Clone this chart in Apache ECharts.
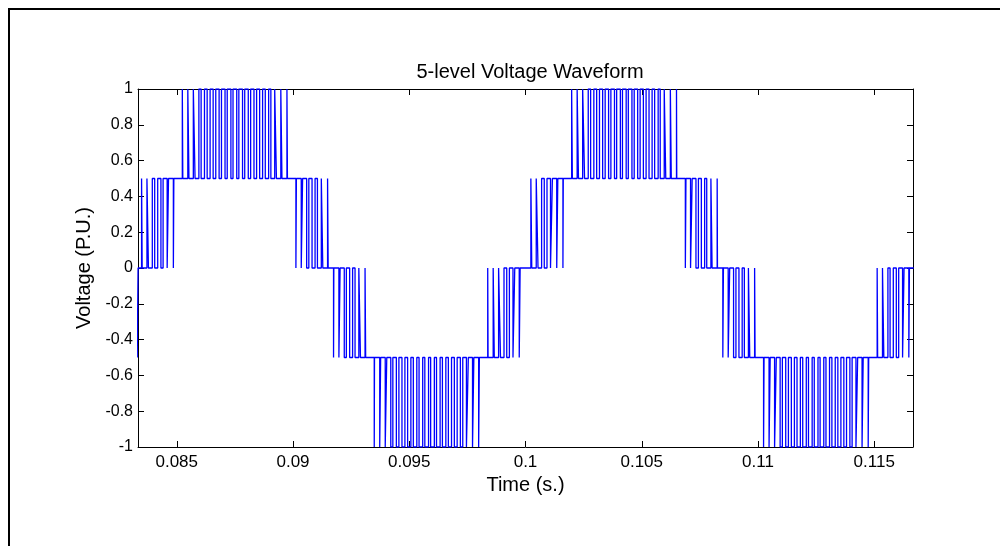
<!DOCTYPE html>
<html>
<head>
<meta charset="utf-8">
<script src="https://cdn.jsdelivr.net/npm/echarts@6/dist/echarts.min.js"></script>
<style>
html,body{margin:0;padding:0;background:#fff;}
#chart{width:1000px;height:546px;}
</style>
</head>
<body>
<div id="chart"></div>
<script>
// Switching events: [time in ms, level after the switch]
var lead = [[83.300,-0.5],[83.336,0]];
var c1PosRise = [[83.4871,0.5],[83.5129,0],[83.7179,0.5],[83.7821,0],[83.949,0.5],[84.051,0],[84.1806,0.5],[84.3194,0],[84.4127,0.5],[84.5873,0],[84.6457,0.5],[84.8543,0],[84.875,0.5]];
var c1PosTop = [[85.2394,1],[85.2606,0.5],[85.4755,1],[85.5245,0.5],[85.713,1],[85.787,0.5],[85.9519,1],[86.0481,0.5],[86.1923,1],[86.3077,0.5],[86.4344,1],[86.5656,0.5],[86.6782,1],[86.8218,0.5],[86.9236,1],[87.0764,0.5],[87.1709,1],[87.3291,0.5],[87.42,1],[87.58,0.5],[87.6709,1],[87.8291,0.5],[87.9236,1],[88.0764,0.5],[88.1782,1],[88.3218,0.5],[88.4344,1],[88.5656,0.5],[88.6923,1],[88.8077,0.5],[88.9519,1],[89.0481,0.5],[89.213,1],[89.287,0.5],[89.4755,1],[89.5245,0.5],[89.7394,1],[89.7606,0.5]];
var c1PosFall = [[90.125,0],[90.1457,0.5],[90.3543,0],[90.4127,0.5],[90.5873,0],[90.6806,0.5],[90.8194,0],[90.949,0.5],[91.051,0],[91.2179,0.5],[91.2821,0],[91.4871,0.5],[91.5129,0]];
var c1NegFall = [[91.7436,-0.5],[91.7564,0],[91.9743,-0.5],[92.0257,0],[92.2053,-0.5],[92.2947,0],[92.4367,-0.5],[92.5633,0],[92.6686,-0.5],[92.8314,0],[92.9012,-0.5],[93.0988,0],[93.125,-0.5]];
var c1NegBottom = [[93.4943,-1],[93.5057,-0.5],[93.73,-1],[93.77,-0.5],[93.967,-1],[94.033,-0.5],[94.2055,-1],[94.2945,-0.5],[94.4454,-1],[94.5546,-0.5],[94.6869,-1],[94.8131,-0.5],[94.93,-1],[95.07,-0.5],[95.175,-1],[95.325,-0.5],[95.4217,-1],[95.5783,-0.5],[95.6701,-1],[95.8299,-0.5],[95.9204,-1],[96.0796,-0.5],[96.1725,-1],[96.3275,-0.5],[96.4264,-1],[96.5736,-0.5],[96.6821,-1],[96.8179,-0.5],[96.9395,-1],[97.0605,-0.5],[97.1985,-1],[97.3015,-0.5],[97.4591,-1],[97.5409,-0.5],[97.7212,-1],[97.7788,-0.5],[97.9846,-1],[98.0154,-0.5]];
var c1NegRise = [[98.375,0],[98.3901,-0.5],[98.6099,0],[98.6569,-0.5],[98.8431,0],[98.9245,-0.5],[99.0755,0],[99.1928,-0.5],[99.3072,0],[99.4616,-0.5],[99.5384,0],[99.7307,-0.5],[99.7693,0]];
var c2PosRise = [[100.2307,0.5],[100.2693,0],[100.4616,0.5],[100.5384,0],[100.6928,0.5],[100.8072,0],[100.9245,0.5],[101.0755,0],[101.1569,0.5],[101.3431,0],[101.3901,0.5],[101.6099,0],[101.625,0.5]];
var c2PosTop = [[101.9846,1],[102.0154,0.5],[102.2212,1],[102.2788,0.5],[102.4591,1],[102.5409,0.5],[102.6985,1],[102.8015,0.5],[102.9395,1],[103.0605,0.5],[103.1821,1],[103.3179,0.5],[103.4264,1],[103.5736,0.5],[103.6725,1],[103.8275,0.5],[103.9204,1],[104.0796,0.5],[104.1701,1],[104.3299,0.5],[104.4217,1],[104.5783,0.5],[104.675,1],[104.825,0.5],[104.93,1],[105.07,0.5],[105.1869,1],[105.3131,0.5],[105.4454,1],[105.5546,0.5],[105.7055,1],[105.7945,0.5],[105.967,1],[106.033,0.5],[106.23,1],[106.27,0.5],[106.4943,1],[106.5057,0.5]];
var c2PosFall = [[106.875,0],[106.9012,0.5],[107.0988,0],[107.1686,0.5],[107.3314,0],[107.4367,0.5],[107.5633,0],[107.7053,0.5],[107.7947,0],[107.9743,0.5],[108.0257,0],[108.2436,0.5],[108.2564,0]];
var c2NegFall = [[108.4871,-0.5],[108.5129,0],[108.7179,-0.5],[108.7821,0],[108.949,-0.5],[109.051,0],[109.1806,-0.5],[109.3194,0],[109.4127,-0.5],[109.5873,0],[109.6457,-0.5],[109.8543,0],[109.875,-0.5]];
var c2NegBottom = [[110.2394,-1],[110.2606,-0.5],[110.4755,-1],[110.5245,-0.5],[110.713,-1],[110.787,-0.5],[110.9519,-1],[111.0481,-0.5],[111.1923,-1],[111.3077,-0.5],[111.4344,-1],[111.5656,-0.5],[111.6782,-1],[111.8218,-0.5],[111.9236,-1],[112.0764,-0.5],[112.1709,-1],[112.3291,-0.5],[112.42,-1],[112.58,-0.5],[112.6709,-1],[112.8291,-0.5],[112.9236,-1],[113.0764,-0.5],[113.1782,-1],[113.3218,-0.5],[113.4344,-1],[113.5656,-0.5],[113.6923,-1],[113.8077,-0.5],[113.9519,-1],[114.0481,-0.5],[114.213,-1],[114.287,-0.5],[114.4755,-1],[114.5245,-0.5],[114.7394,-1],[114.7606,-0.5]];
var c2NegRise = [[115.125,0],[115.1457,-0.5],[115.3543,0],[115.4127,-0.5],[115.5873,0],[115.6806,-0.5],[115.8194,0],[115.949,-0.5],[116.051,0],[116.2179,-0.5],[116.2821,0],[116.4871,-0.5],[116.5129,0],[116.7,0]];

var xTicks = [0.085, 0.09, 0.095, 0.1, 0.105, 0.11, 0.115];
var yTicks = [-1, -0.8, -0.6, -0.4, -0.2, 0, 0.2, 0.4, 0.6, 0.8, 1];
var titleText = '5-level Voltage Waveform';
var xName = 'Time (s.)';
var yName = 'Voltage (P.U.)';

var segments = [lead, c1PosRise, c1PosTop, c1PosFall, c1NegFall, c1NegBottom, c1NegRise,
  c2PosRise, c2PosTop, c2PosFall, c2NegFall, c2NegBottom, c2NegRise];
var seriesData = [];
segments.forEach(function (seg) {
  seg.forEach(function (p) { seriesData.push([p[0] / 1000, p[1]]); });
});

var FONT = '"Liberation Sans", Arial, sans-serif';
var axisCommon = {
  axisLine: { show: true, onZero: false, lineStyle: { color: '#000', width: 1 } },
  splitLine: { show: false },
};

var chart = echarts.init(document.getElementById('chart'), null, { renderer: 'canvas' });
chart.setOption({
  animation: false,
  backgroundColor: '#fff',
  title: {
    text: titleText, left: 525, top: 57, textAlign: 'center',
    textStyle: { fontFamily: FONT, fontSize: 20, fontWeight: 'normal', color: '#000' }
  },
  grid: { left: 138, top: 89, right: 87, bottom: 99, containLabel: false },
  graphic: [{
    type: 'rect', silent: true,
    shape: { x: 9, y: 9, width: 1100, height: 700 },
    style: { fill: 'none', stroke: '#000', lineWidth: 2 }
  }],
  xAxis: [
    Object.assign({
      type: 'value', position: 'bottom', min: 1 / 12, max: 7 / 60,
      name: xName, nameLocation: 'middle', nameGap: 27,
      nameTextStyle: { fontFamily: FONT, fontSize: 20, color: '#000' },
      axisTick: { show: true, inside: true, length: 6, customValues: xTicks, lineStyle: { color: '#000' } },
      axisLabel: { show: true, customValues: xTicks, margin: 7, fontFamily: FONT, fontSize: 17, color: '#000',
        formatter: function (v) { return String(parseFloat(v.toFixed(4))); } }
    }, axisCommon),
    Object.assign({
      type: 'value', position: 'top', min: 1 / 12, max: 7 / 60,
      axisTick: { show: true, inside: true, length: 6, customValues: xTicks, lineStyle: { color: '#000' } },
      axisLabel: { show: false }
    }, axisCommon)
  ],
  yAxis: [
    Object.assign({
      type: 'value', position: 'left', min: -1, max: 1, interval: 0.2,
      name: yName, nameLocation: 'middle', nameGap: 36, nameRotate: 90,
      nameTextStyle: { fontFamily: FONT, fontSize: 20, color: '#000' },
      axisTick: { show: true, inside: true, length: 6, customValues: yTicks, lineStyle: { color: '#000' } },
      axisLabel: { show: true, customValues: yTicks, margin: 5, fontFamily: FONT, fontSize: 16, color: '#000',
        formatter: function (v) { return String(parseFloat(v.toFixed(2))); } }
    }, axisCommon),
    Object.assign({
      type: 'value', position: 'right', min: -1, max: 1, interval: 0.2,
      axisTick: { show: true, inside: true, length: 6, customValues: yTicks, lineStyle: { color: '#000' } },
      axisLabel: { show: false }
    }, axisCommon)
  ],
  series: [{
    type: 'line', step: 'end', showSymbol: false, symbol: 'none',
    xAxisIndex: 0, yAxisIndex: 0,
    data: seriesData,
    lineStyle: { color: '#0000ff', width: 1.3 },
    clip: true
  }]
});
</script>
</body>
</html>
